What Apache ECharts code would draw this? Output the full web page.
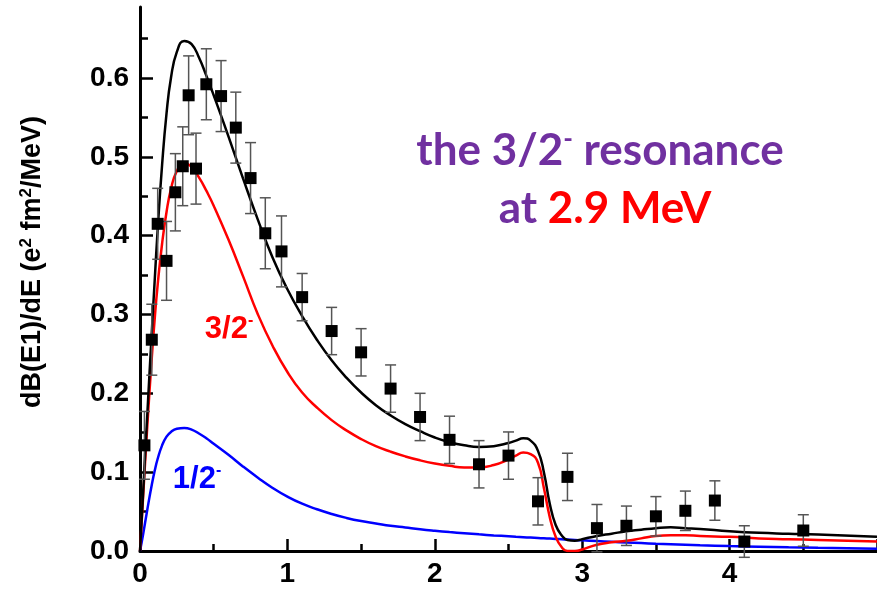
<!DOCTYPE html>
<html>
<head>
<meta charset="utf-8">
<script src="https://cdn.jsdelivr.net/npm/echarts@6/dist/echarts.min.js"></script>
<style>
  html, body { margin: 0; padding: 0; background: #ffffff; }
  #chart { width: 877px; height: 591px; }
</style>
</head>
<body>
<div id="chart"></div>
<script>
// Energy grid (MeV) shared by the three calculated strength curves
const curveEnergy = [0, 0.02, 0.05, 0.08, 0.1, 0.12, 0.15, 0.18, 0.21, 0.25, 0.3, 0.35, 0.4, 0.45, 0.5,
  0.6, 0.7, 0.8, 0.9, 1.0, 1.1, 1.2, 1.3, 1.4, 1.5, 1.6, 1.7, 1.8, 1.9, 2.0, 2.1, 2.2, 2.3, 2.4, 2.5,
  2.55, 2.6, 2.65, 2.7, 2.74, 2.78, 2.82, 2.86, 2.9, 2.95, 3.0, 3.1, 3.2, 3.3, 3.4, 3.5, 3.6, 3.7, 3.8,
  4.0, 4.2, 4.4, 4.6, 5.0];

// Total calculated dB(E1)/dE
const totalStrength = [0, 0.07, 0.175, 0.278, 0.344, 0.408, 0.49, 0.555, 0.6, 0.633, 0.647, 0.643, 0.626, 0.603, 0.578,
  0.526, 0.472, 0.42, 0.372, 0.332, 0.298, 0.268, 0.242, 0.22, 0.201, 0.185, 0.172, 0.161, 0.152, 0.144, 0.138, 0.134, 0.132, 0.133, 0.137,
  0.140, 0.143, 0.140, 0.127, 0.1, 0.06, 0.033, 0.02, 0.014, 0.013, 0.015, 0.019, 0.022, 0.025, 0.027, 0.029, 0.030, 0.029, 0.028,
  0.025, 0.023, 0.022, 0.021, 0.018];

// 3/2- component
const strength32 = [0, 0.065, 0.16, 0.245, 0.295, 0.338, 0.39, 0.43, 0.459, 0.482, 0.492, 0.487, 0.474, 0.457, 0.438,
  0.395, 0.348, 0.3, 0.26, 0.227, 0.201, 0.182, 0.166, 0.153, 0.142, 0.133, 0.126, 0.12, 0.115, 0.111, 0.108, 0.106, 0.106, 0.109, 0.116,
  0.121, 0.125, 0.123, 0.112, 0.08, 0.043, 0.018, 0.005, 0.0, 0.0, 0.002, 0.008, 0.011, 0.013, 0.016, 0.019, 0.02, 0.02, 0.019,
  0.018, 0.016, 0.015, 0.014, 0.012];

// 1/2- component
const strength12 = [0, 0.02, 0.053, 0.084, 0.102, 0.117, 0.134, 0.145, 0.151, 0.155, 0.156, 0.154, 0.149, 0.143, 0.136,
  0.122, 0.107, 0.093, 0.08, 0.069, 0.06, 0.053, 0.047, 0.042, 0.038, 0.035, 0.032, 0.0298, 0.0276, 0.0257, 0.024, 0.0225, 0.0211, 0.0198, 0.0186,
  0.018, 0.0175, 0.017, 0.0165, 0.0161, 0.0157, 0.0153, 0.0149, 0.0145, 0.014, 0.0135, 0.0126, 0.0117, 0.0108, 0.01, 0.0092, 0.0085, 0.0078, 0.0072,
  0.0062, 0.0054, 0.0047, 0.0041, 0.003];

// Measured points: energy, value, symmetric uncertainty
const expEnergy = [0.03, 0.08, 0.12, 0.18, 0.24, 0.29, 0.33, 0.38, 0.45, 0.55, 0.65, 0.75, 0.85, 0.96,
  1.1, 1.3, 1.5, 1.7, 1.9, 2.1, 2.3, 2.5, 2.7, 2.9, 3.1, 3.3, 3.5, 3.7, 3.9, 4.1, 4.5];
const expValue = [0.134, 0.268, 0.415, 0.368, 0.455, 0.488, 0.578, 0.485, 0.592, 0.577, 0.537, 0.473, 0.403, 0.38,
  0.322, 0.279, 0.252, 0.206, 0.17, 0.141, 0.11, 0.121, 0.063, 0.094, 0.029, 0.032, 0.044, 0.051, 0.064, 0.012, 0.026];
const expError = [0.043, 0.045, 0.045, 0.05, 0.049, 0.05, 0.05, 0.045, 0.045, 0.045, 0.045, 0.045, 0.045, 0.045,
  0.03, 0.03, 0.03, 0.03, 0.03, 0.03, 0.03, 0.03, 0.03, 0.03, 0.03, 0.025, 0.025, 0.025, 0.025, 0.02, 0.02];

// Axis ticks
const xTickValues = [0, 1, 2, 3, 4];
const yTickValues = [0, 0.1, 0.2, 0.3, 0.4, 0.5, 0.6];

const chart = echarts.init(document.getElementById('chart'), null, { renderer: 'canvas' });
const zip = (xs, ys) => xs.map((x, i) => [x, ys[i]]);

const tickFont = { fontFamily: 'Liberation Sans', fontWeight: 'bold', fontSize: 28, color: '#000' };
const lineBase = { type: 'line', showSymbol: false, symbol: 'none', smooth: 0.5, silent: true };

const option = {
  animation: false,
  backgroundColor: '#ffffff',
  grid: { left: 140, top: 7, right: -17, bottom: 40, containLabel: false },
  xAxis: {
    type: 'value', min: 0, max: 5, interval: 1,
    axisLine: { show: true, onZero: false, lineStyle: { color: '#000', width: 3 } },
    axisTick: { show: true, inside: true, length: 12, lineStyle: { color: '#000', width: 2.5 } },
    minorTick: { show: true, splitNumber: 2, length: 7, lineStyle: { color: '#000', width: 2.5 } },
    splitLine: { show: false },
    axisLabel: Object.assign({ margin: 9, customValues: xTickValues }, tickFont)
  },
  yAxis: {
    type: 'value', min: 0, max: 0.69, interval: 0.1,
    axisLine: { show: true, onZero: false, lineStyle: { color: '#000', width: 3 } },
    axisTick: { show: true, inside: true, length: 13, customValues: yTickValues, lineStyle: { color: '#000', width: 2.5 } },
    minorTick: { show: true, splitNumber: 2, length: 8, lineStyle: { color: '#000', width: 2.5 } },
    splitLine: { show: false },
    axisLabel: Object.assign({ margin: 11, customValues: yTickValues, formatter: v => v.toFixed(1) }, tickFont)
  },
  series: [
    Object.assign({}, lineBase, { name: '1/2-', data: zip(curveEnergy, strength12), lineStyle: { color: '#0000ff', width: 2.5 }, z: 2 }),
    Object.assign({}, lineBase, { name: '3/2-', data: zip(curveEnergy, strength32), lineStyle: { color: '#ff0000', width: 2.5 }, z: 3 }),
    Object.assign({}, lineBase, { name: 'total', data: zip(curveEnergy, totalStrength), lineStyle: { color: '#000000', width: 2.5 }, z: 4 }),
    {
      type: 'custom', name: 'errors', z: 5, silent: true,
      data: expEnergy.map((e, i) => [e, expValue[i] - expError[i], expValue[i] + expError[i]]),
      encode: { x: 0, y: [1, 2] },
      renderItem: (params, api) => {
        const e = api.value(0);
        const top = api.coord([e, api.value(2)]);
        const bot = api.coord([e, api.value(1)]);
        const hw = 5.5;
        const st = { stroke: '#555555', lineWidth: 1.5 };
        return {
          type: 'group',
          children: [
            { type: 'line', shape: { x1: top[0], y1: top[1], x2: bot[0], y2: bot[1] }, style: st },
            { type: 'line', shape: { x1: top[0] - hw, y1: top[1], x2: top[0] + hw, y2: top[1] }, style: st },
            { type: 'line', shape: { x1: bot[0] - hw, y1: bot[1], x2: bot[0] + hw, y2: bot[1] }, style: st }
          ]
        };
      }
    },
    {
      type: 'scatter', name: 'data', z: 6, silent: true,
      data: zip(expEnergy, expValue),
      symbol: 'rect', symbolSize: 12,
      itemStyle: { color: '#000000', opacity: 1 }
    }
  ],
  graphic: [
    {
      type: 'text', x: 33, y: 262, rotation: Math.PI / 2,
      style: {
        text: '{t|dB(E1)/dE (e}{s|2}{t| fm}{s|2}{t|/MeV)}',
        align: 'center', verticalAlign: 'middle',
        rich: {
          t: { fontFamily: 'Liberation Sans', fontWeight: 'bold', fontSize: 27, fill: '#000', lineHeight: 30 },
          s: { fontFamily: 'Liberation Sans', fontWeight: 'bold', fontSize: 17, fill: '#000', verticalAlign: 'top', lineHeight: 30 }
        }
      }
    },
    {
      type: 'text', x: 229, y: 329,
      style: {
        text: '{t|3/2}{s|-}',
        align: 'center', verticalAlign: 'middle',
        rich: {
          t: { fontFamily: 'Liberation Sans', fontWeight: 'bold', fontSize: 31, fill: '#ff0000', lineHeight: 32 },
          s: { fontFamily: 'Liberation Sans', fontWeight: 'bold', fontSize: 16, fill: '#ff0000', verticalAlign: 'top', lineHeight: 32 }
        }
      }
    },
    {
      type: 'text', x: 197, y: 479,
      style: {
        text: '{t|1/2}{s|-}',
        align: 'center', verticalAlign: 'middle',
        rich: {
          t: { fontFamily: 'Liberation Sans', fontWeight: 'bold', fontSize: 31, fill: '#0000ff', lineHeight: 32 },
          s: { fontFamily: 'Liberation Sans', fontWeight: 'bold', fontSize: 16, fill: '#0000ff', verticalAlign: 'top', lineHeight: 32 }
        }
      }
    },
    {
      type: 'text', x: 600, y: 151,
      style: {
        text: '{t|the 3/2}{s|-}{t| resonance}',
        align: 'center', verticalAlign: 'middle',
        rich: {
          t: { fontFamily: 'Lato', fontWeight: 'bold', fontSize: 44, fill: '#7030a0', lineHeight: 48 },
          s: { fontFamily: 'Lato', fontWeight: 'bold', fontSize: 26, fill: '#7030a0', verticalAlign: 'top', lineHeight: 48 }
        }
      }
    },
    {
      type: 'text', x: 605, y: 209,
      style: {
        text: '{p|at }{r|2.9 MeV}',
        align: 'center', verticalAlign: 'middle',
        rich: {
          p: { fontFamily: 'Lato', fontWeight: 'bold', fontSize: 44, fill: '#7030a0', lineHeight: 48 },
          r: { fontFamily: 'Lato', fontWeight: 'bold', fontSize: 44, fill: '#ff0000', lineHeight: 48 }
        }
      }
    }
  ]
};

chart.setOption(option);
</script>
</body>
</html>
